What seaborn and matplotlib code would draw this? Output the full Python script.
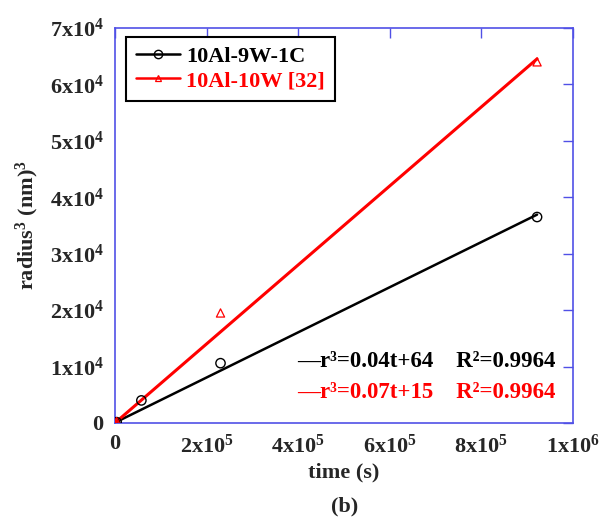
import numpy as np
import pandas as pd
import matplotlib
matplotlib.use("Agg")
import matplotlib.pyplot as plt
from matplotlib.lines import Line2D
from matplotlib.ticker import FuncFormatter, MultipleLocator
import seaborn as sns

# ---- data -------------------------------------------------------------
time_c = [0, 3600, 57600, 230400, 921600]          # 10Al-9W-1C, time (s)
r3_c = [0, 150, 4000, 10600, 36500]                 # radius^3 (nm^3)
time_w = [0, 3600, 230400, 921600]                  # 10Al-10W [32]
r3_w = [0, 250, 19500, 64000]

fit_c = (0.04, 64)      # r^3 = a t + b
fit_w = (0.07, 15)
r2_c = 0.9964
r2_w = 0.9964

series_names = ["10Al-9W-1C", "10Al-10W [32]"]

# ---- style ------------------------------------------------------------
sns.set_theme(style="white")
plt.rcParams["font.family"] = ["Liberation Serif", "DejaVu Serif"]
plt.rcParams["font.weight"] = "bold"
plt.rcParams["mathtext.fontset"] = "custom"
plt.rcParams["mathtext.rm"] = "Liberation Serif:bold"
plt.rcParams["mathtext.it"] = "Liberation Serif:italic:bold"
plt.rcParams["mathtext.bf"] = "Liberation Serif:bold"

AX_BLUE = "#5050e6"
RED = "#ff0000"
FS = 16

fig = plt.figure(figsize=(6.03, 5.25), dpi=100)
ax = fig.add_axes([0.1907, 0.1943, 0.7595, 0.7524])

df_c = pd.DataFrame({"t": time_c, "r3": r3_c})
df_w = pd.DataFrame({"t": time_w, "r3": r3_w})

t_end = max(time_c)
fit_c_df = pd.DataFrame({"t": [0, t_end], "r3": [fit_c[1], fit_c[0] * t_end + fit_c[1]]})
fit_w_df = pd.DataFrame({"t": [0, t_end], "r3": [fit_w[1], fit_w[0] * t_end + fit_w[1]]})

sns.lineplot(data=fit_c_df, x="t", y="r3", color="black", lw=1.8, ax=ax, zorder=3)
sns.lineplot(data=fit_w_df, x="t", y="r3", color=RED, lw=2.2, ax=ax, zorder=3)

sns.scatterplot(data=df_c, x="t", y="r3", marker="o", s=45, facecolor="none",
                edgecolor="black", linewidth=1.0, ax=ax, zorder=4)
sns.scatterplot(data=df_w, x="t", y="r3", marker="^", s=35, facecolor="none",
                edgecolor=RED, linewidth=0.9, ax=ax, zorder=4)

ax.set_xlim(0, 1e6)
ax.set_ylim(0, 7e4)
ax.xaxis.set_major_locator(MultipleLocator(2e5))
ax.yaxis.set_major_locator(MultipleLocator(1e4))


def sci_label(v, pos):
    if v == 0:
        return r"$\mathrm{0}$"
    e = int(np.floor(np.log10(abs(v)) + 1e-9))
    m = int(round(v / 10 ** e))
    return r"$\mathrm{%dx10^{%d}}$" % (m, e)


ax.xaxis.set_major_formatter(FuncFormatter(sci_label))
ax.yaxis.set_major_formatter(FuncFormatter(sci_label))

for s in ax.spines.values():
    s.set_color(AX_BLUE)
    s.set_linewidth(1.2)
ax.tick_params(axis="both", which="major", direction="in", length=7, width=1.0,
               color=AX_BLUE, top=True, right=True, labelsize=FS, pad=8)
for lab in ax.get_xticklabels() + ax.get_yticklabels():
    lab.set_fontweight("bold")

ax.set_xlabel("time (s)", fontsize=FS, fontweight="bold", labelpad=4)
ax.set_ylabel(r"$\mathrm{radius^{3}\ (nm)^{3}}$", fontsize=FS, labelpad=6)

# legend
handles = [
    Line2D([], [], color="black", lw=1.8, marker="o", ms=6, mfc="none", mec="black", mew=1.0),
    Line2D([], [], color=RED, lw=1.8, marker="^", ms=5, mfc="none", mec=RED, mew=0.9),
]
leg = ax.legend(handles, series_names, loc="upper left", bbox_to_anchor=(0.024, 0.978),
                fontsize=FS, handlelength=2.0, handletextpad=0.25, borderpad=0.45,
                labelspacing=0.15, fancybox=False, framealpha=1, edgecolor="black",
                borderaxespad=0)
leg.get_frame().set_linewidth(1.5)
leg.get_texts()[0].set_color("black")
leg.get_texts()[1].set_color(RED)
for t in leg.get_texts():
    t.set_fontweight("bold")

# fit equations
ax.text(0.398, 0.155,
        "\u2014r\u00b3=%.2ft+%d    R\u00b2=%.4f" % (fit_c[0], fit_c[1], r2_c),
        transform=ax.transAxes, fontsize=16.5, fontweight="bold", color="black",
        ha="left", va="center")
ax.text(0.398, 0.078,
        "\u2014r\u00b3=%.2ft+%d    R\u00b2=%.4f" % (fit_w[0], fit_w[1], r2_w),
        transform=ax.transAxes, fontsize=16.5, fontweight="bold", color=RED,
        ha="left", va="center")

fig.text(0.572, 0.035, "(b)", fontsize=FS, fontweight="bold", ha="center", va="center")

fig.savefig("out.png", dpi=100)
